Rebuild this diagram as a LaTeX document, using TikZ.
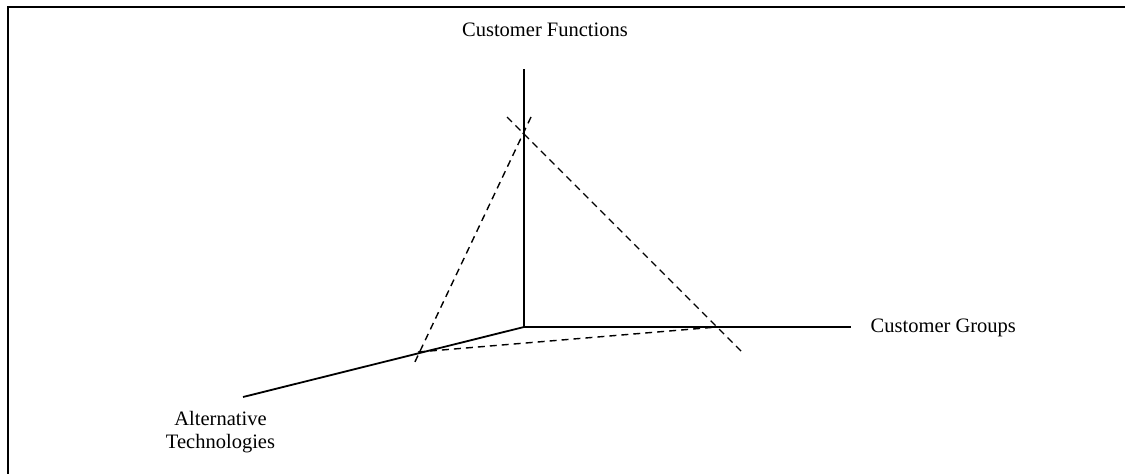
\documentclass[tikz,border=0pt]{standalone}
\usepackage{fontspec}
\setmainfont{Liberation Serif}
\begin{document}
\begin{tikzpicture}[x=1pt,y=-1pt,
  axis/.style={line width=1.8pt},
  guide/.style={line width=1.4pt, dash pattern=on 7pt off 5pt},
  lbl/.style={font=\fontsize{20.5}{23}\selectfont, inner sep=0pt}]
\useasboundingbox (0,0) rectangle (1125,474);
% frame (only top and left edges are visible)
\coordinate (fTR) at (1135,6.5);
\coordinate (fTL) at (8,6.5);
\coordinate (fBL) at (8,480);
\draw[line width=2pt] (fTR) -- (fTL) -- (fBL);
% axes
\coordinate (O) at (524,327);
\coordinate (F) at (524,69);
\coordinate (G) at (851,327);
\coordinate (T) at (243,397);
\draw[axis] (F) -- (O) -- (G);
\draw[axis] (O) -- (T);
% dashed plane
\coordinate (a1) at (531,117);
\coordinate (a2) at (413,366);
\coordinate (b1) at (507,117);
\coordinate (b2) at (742,352);
\coordinate (c1) at (418,352);
\coordinate (c2) at (717,327);
\draw[guide] (a1) -- (a2);
\draw[guide] (b1) -- (b2);
\draw[guide] (c1) -- (c2);
% labels
\node[lbl, anchor=base] (lf) at (545,36.5) {Customer Functions};
\node[lbl, anchor=base west] (lg) at (870.5,332) {Customer Groups};
\node[lbl, anchor=base, align=center] (lt) at (220.5,448) {Alternative\\Technologies};
\end{tikzpicture}
\end{document}
